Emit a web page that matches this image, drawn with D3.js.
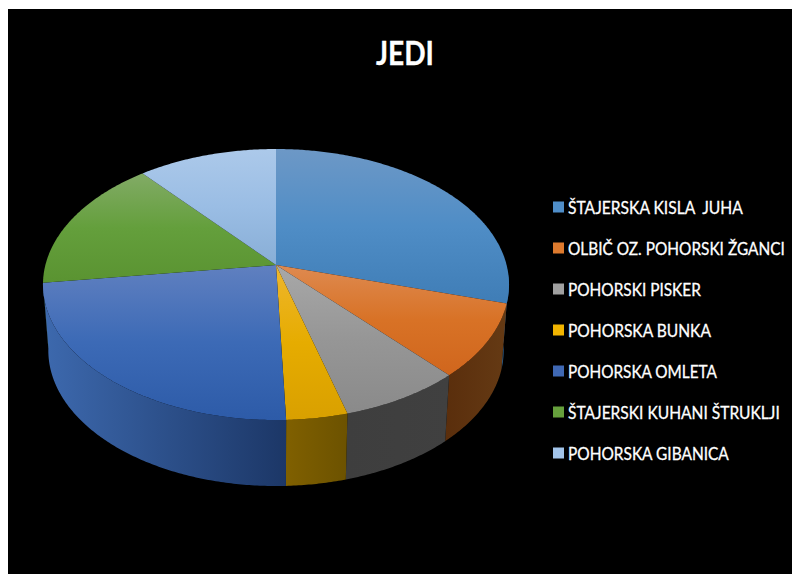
<!DOCTYPE html>
<html>
<head>
<meta charset="utf-8">
<script src="https://cdn.jsdelivr.net/npm/d3@7"></script>
<style>
  html, body { margin: 0; padding: 0; background: #fff; }
  svg { display: block; }
  text { font-family: Lato, "Open Sans", sans-serif; fill: #fff; white-space: pre; }
</style>
</head>
<body>
<script>
// Dishes and their shares, in percent
const categories = [
  "ŠTAJERSKA KISLA  JUHA",
  "OLBIČ OZ. POHORSKI ŽGANCI",
  "POHORSKI PISKER",
  "POHORSKA BUNKA",
  "POHORSKA OMLETA",
  "ŠTAJERSKI KUHANI ŠTRUKLJI",
  "POHORSKA GIBANICA"
];
const shares = [29.5, 8.8, 7.4, 3.7, 23.5, 16.0, 11.1];
const legendColors = ["#4f8ec9", "#dd7a2e", "#a0a0a0", "#f0b400", "#3f68b4", "#66a03c", "#a2c4ea"];

// Top face shading: light rim at the back, deeper towards the viewer
const topShades = [
  ["#6d98c6", "#4f8dc6", "#3f7db6"],
  ["#de8a50", "#d87226", "#d0661d"],
  ["#a8a8a8", "#969696", "#8a8a8a"],
  ["#eeb62e", "#e6ac00", "#d9a000"],
  ["#6080c0", "#3c6ab6", "#2d5ba8"],
  ["#82ab66", "#649f3c", "#5a9331"],
  ["#acc9ea", "#9abde4", "#88aed6"]
];
// Side wall shading, left to right
const wallShades = [
  ["#2f618f", "#2a5a88"],
  ["#5a2e0c", "#653a14"],
  ["#3e3e3e", "#404040"],
  ["#806000", "#6c5200"],
  ["#3d69ae", "#1c3767"],
  ["#3d6325", "#3d6325"],
  ["#5e7a98", "#5e7a98"]
];

const width = 792, height = 574;
const svg = d3.select("body").append("svg").attr("width", width).attr("height", height);
const defs = svg.append("defs");

svg.append("rect").attr("x", 8).attr("y", 9)
  .attr("width", width - 8).attr("height", height - 9).attr("fill", "#000");

// Squeeze a text horizontally to the wanted width, keeping its height
const fitWidth = (sel, widthOf) => sel.each(function (d, i) {
  const t = d3.select(this), x = +t.attr("x");
  const k = widthOf(d, i) / this.getComputedTextLength();
  t.attr("transform", `translate(${x},0) scale(${k},1) translate(${-x},0)`);
});

svg.append("text").attr("x", 376).attr("y", 65)
  .attr("font-size", 32).attr("font-weight", 700)
  .attr("stroke", "#fff").attr("stroke-width", 0.3)
  .text("JEDI")
  .call(fitWidth, () => 58);

// Tilted disc: clockwise angle from twelve o'clock to screen position
const cx = 276, cy = 265, radius = 230.6, squash = 132.7, perspective = 0.144;
const wallDepth = 66, wallInset = 0.977;
const project = a => {
  const X = Math.sin(a), Y = -Math.cos(a), w = 1 - perspective * Y;
  return [radius * X / w, squash * Y / w];
};
const topRim = a => { const p = project(a); return [cx + p[0], cy + p[1]]; };
const lowRim = a => { const p = project(a); return [cx + p[0] * wallInset, cy + p[1] + wallDepth]; };

const arcs = d3.pie().sort(null).value(d => d)(shares);
const sample = (a0, a1) => {
  const n = Math.max(2, Math.ceil((a1 - a0) / 0.01));
  return d3.range(n + 1).map(i => a0 + (a1 - a0) * i / n);
};
const line = d3.line();

// Only the part of the rim facing the viewer has a wall
const wallFrom = 94 * Math.PI / 180, wallTo = 263 * Math.PI / 180;

arcs.forEach((arc, i) => {
  const a0 = Math.max(arc.startAngle, wallFrom), a1 = Math.min(arc.endAngle, wallTo);
  if (a1 <= a0) return;
  const angles = sample(a0, a1);
  const upper = angles.map(topRim), lower = angles.map(lowRim).reverse();
  const xs = upper.map(p => p[0]).concat(lower.map(p => p[0]));
  const grad = defs.append("linearGradient").attr("id", "wall" + i)
    .attr("gradientUnits", "userSpaceOnUse")
    .attr("x1", d3.min(xs)).attr("x2", d3.max(xs)).attr("y1", 0).attr("y2", 0);
  wallShades[i].forEach((c, k) => grad.append("stop").attr("offset", k).attr("stop-color", c));
  svg.append("path").attr("d", line(upper.concat(lower)) + "Z").attr("fill", `url(#wall${i})`);
});

arcs.forEach((arc, i) => {
  const pts = [[cx, cy]].concat(sample(arc.startAngle, arc.endAngle).map(topRim));
  const grad = defs.append("linearGradient").attr("id", "top" + i)
    .attr("gradientUnits", "objectBoundingBox")
    .attr("x1", 0).attr("x2", 0).attr("y1", 0).attr("y2", 1);
  topShades[i].forEach((c, k) => grad.append("stop").attr("offset", k / 2).attr("stop-color", c));
  svg.append("path").attr("d", line(pts) + "Z").attr("fill", `url(#top${i})`);
});

// Legend column
const legendY = d3.scalePoint().domain(categories).range([207, 453]);
const legendWidths = [175, 217, 133, 143, 149, 212, 161];
const legend = svg.selectAll("g.entry").data(categories).join("g").attr("class", "entry")
  .attr("transform", d => `translate(0,${legendY(d)})`);
legend.append("rect").attr("x", 553).attr("y", -5.5).attr("width", 11).attr("height", 11)
  .attr("fill", (d, i) => legendColors[i]);
legend.append("text").attr("x", 568).attr("y", 6.5)
  .attr("font-size", 18).attr("stroke", "#fff").attr("stroke-width", 0.3)
  .text(d => d)
  .call(fitWidth, (d, i) => legendWidths[i]);
</script>
</body>
</html>
